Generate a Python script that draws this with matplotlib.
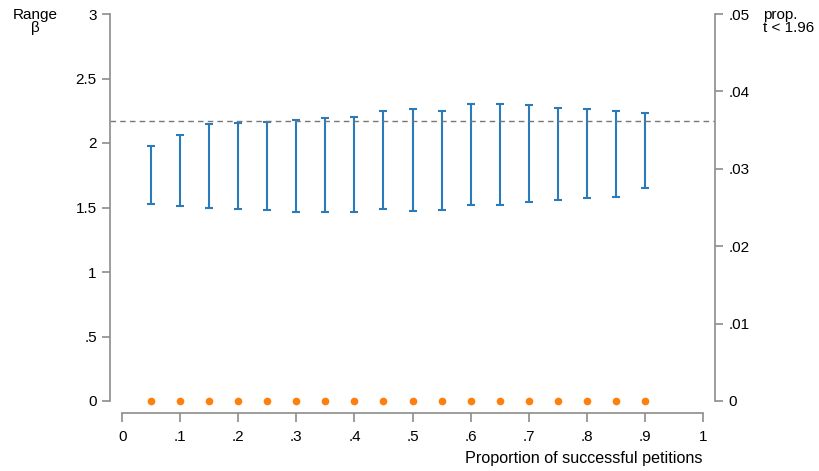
import numpy as np
import matplotlib
matplotlib.use("Agg")
import matplotlib.pyplot as plt

plt.rcParams['font.family'] = ['Liberation Sans', 'DejaVu Sans']

# proporção de petições bem-sucedidas
prop_sucesso = [0.05, 0.10, 0.15, 0.20, 0.25, 0.30, 0.35, 0.40, 0.45,
                0.50, 0.55, 0.60, 0.65, 0.70, 0.75, 0.80, 0.85, 0.90]
# limites do intervalo de beta
beta_alto = [1.98, 2.06, 2.15, 2.155, 2.16, 2.175, 2.19, 2.20, 2.25,
             2.26, 2.25, 2.30, 2.30, 2.295, 2.27, 2.26, 2.245, 2.23]
beta_baixo = [1.525, 1.51, 1.50, 1.485, 1.48, 1.465, 1.463, 1.463, 1.49,
              1.476, 1.482, 1.523, 1.523, 1.544, 1.555, 1.575, 1.583, 1.65]
# proporção com t < 1.96
prop_t = [0, 0, 0, 0, 0, 0, 0, 0, 0, 0, 0, 0, 0, 0, 0, 0, 0, 0]
linha_ref = 2.172

cinza = '#8c8c8c'
azul = '#2b7bba'
laranja = '#ff7f0e'
fs = 11

fig = plt.figure(figsize=(8.2, 4.71), dpi=100)
ax = fig.add_axes([110/820, (471-401)/471, (715-110)/820, (401-14)/471])

alto = np.array(beta_alto)
baixo = np.array(beta_baixo)
meio = (alto + baixo) / 2
ax.errorbar(prop_sucesso, meio, yerr=(alto - baixo) / 2, fmt='none',
            ecolor=azul, elinewidth=1.5, capsize=3.2, capthick=1.5)
ax.axhline(linha_ref, color='#777777', linewidth=1, linestyle=(0, (4, 3)))

ax.set_xlim(-0.021, 1.021)
ax.set_ylim(0, 3)
ax.set_xticks([0, .1, .2, .3, .4, .5, .6, .7, .8, .9, 1])
ax.set_xticklabels(["0", ".1", ".2", ".3", ".4", ".5", ".6", ".7", ".8", ".9", "1"])
ax.set_yticks([0, .5, 1, 1.5, 2, 2.5, 3])
ax.set_yticklabels(["0", ".5", "1", "1.5", "2", "2.5", "3"])

for s in ['top', 'right']:
    ax.spines[s].set_visible(False)
ax.spines['left'].set_bounds(0, 3)
ax.spines['bottom'].set_bounds(0, 1)
ax.spines['bottom'].set_position(('outward', 8.6))
for s in ['left', 'bottom']:
    ax.spines[s].set_color(cinza)
    ax.spines[s].set_linewidth(1.2)
ax.tick_params(colors=cinza, labelcolor='black', width=1.2, length=6,
               labelsize=fs, pad=3.5)
ax.tick_params(axis='x', length=6.5, pad=5.5)

ax2 = ax.twinx()
ax2.plot(prop_sucesso, prop_t, 'o', color=laranja, markersize=4.5, clip_on=False)
ax2.set_ylim(0, 0.05)
ax2.set_yticks([0, .01, .02, .03, .04, .05])
ax2.set_yticklabels(["0", ".01", ".02", ".03", ".04", ".05"])
for s in ['top', 'left', 'bottom']:
    ax2.spines[s].set_visible(False)
ax2.spines['right'].set_color(cinza)
ax2.spines['right'].set_linewidth(1.2)
ax2.tick_params(colors=cinza, labelcolor='black', width=1.2, length=6,
                labelsize=fs, pad=3.5)

fig.text(35/820, 1 - 8/471, "Range\nβ", ha='center', va='top', fontsize=fs,
         linespacing=0.95)
fig.text(763/820, 1 - 8/471, "prop.\nt < 1.96", ha='left', va='top', fontsize=fs,
         linespacing=0.95)
fig.text(703/820, 1 - 466/471, "Proportion of successful petitions", ha='right',
         va='bottom', fontsize=11.6)

plt.savefig("out.png", dpi=100)
